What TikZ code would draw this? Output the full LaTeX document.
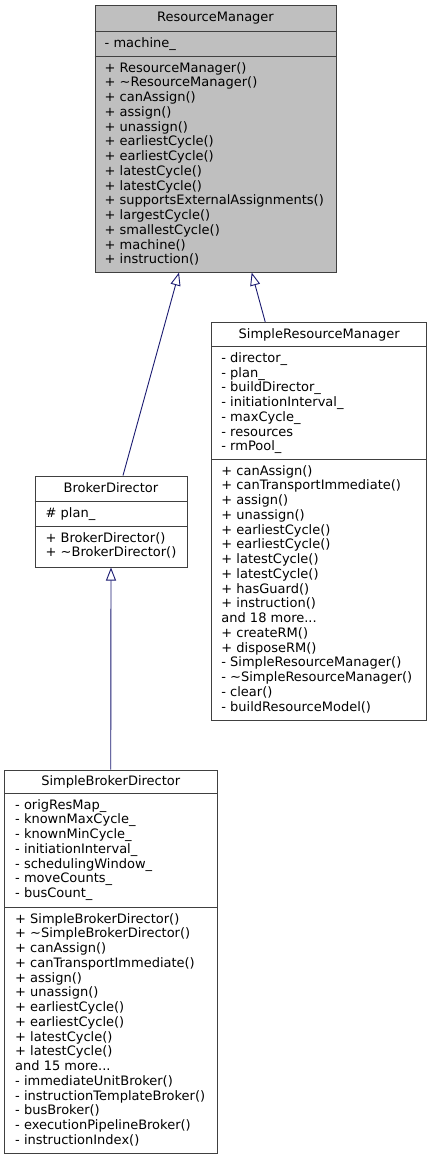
\documentclass[tikz,border=0pt]{standalone}
\usepackage{fontspec}
\setmainfont{DejaVu Sans}
\usetikzlibrary{calc}
\usetikzlibrary{arrows.meta}

\definecolor{edgeblue}{HTML}{191970}
\definecolor{boxgray}{HTML}{BFBFBF}
\definecolor{boxline}{HTML}{404040}

\tikzset{
    classbox/.style={rectangle, draw=boxline, line width=1pt, inner sep=0pt},
    divider/.style={draw=boxline, line width=1pt},
    classname/.style={anchor=base, inner sep=0pt, font=\fontsize{13}{14.75}\selectfont},
    member/.style={anchor=north west, inner sep=0pt, align=left, font=\fontsize{13}{14.75}\selectfont},
    inherit/.style={draw=edgeblue, line width=0.9pt, -{Triangle[open, length=13pt, width=10pt]}}
}

\begin{document}
\begin{tikzpicture}[x=1pt,y=-1pt]
    \useasboundingbox (0,0) rectangle (432,1160);

    % ResourceManager
    \node[classbox, fill=boxgray, minimum width=241pt, minimum height=267pt] (rm) at (215.5,138.5) {};
    \draw[divider] ($(rm.north west)+(0,27)$) -- ($(rm.north east)+(0,27)$);
    \draw[divider] ($(rm.north west)+(0,52)$) -- ($(rm.north east)+(0,52)$);
    \node[classname] (rmname) at ($(rm.north)+(0,16.5)$) {ResourceManager};
    \node[member] (rmattr) at ($(rm.north west)+(10,32.6)$) {- machine\_};
    \node[member] (rmops) at ($(rm.north west)+(10,57.6)$) {+ ResourceManager()\\
        + \textasciitilde ResourceManager()\\
        + canAssign()\\
        + assign()\\
        + unassign()\\
        + earliestCycle()\\
        + earliestCycle()\\
        + latestCycle()\\
        + latestCycle()\\
        + supportsExternalAssignments()\\
        + largestCycle()\\
        + smallestCycle()\\
        + machine()\\
        + instruction()};

    % SimpleResourceManager
    \node[classbox, fill=white, minimum width=215pt, minimum height=397.7pt] (srm) at (319.2,521.15) {};
    \draw[divider] ($(srm.north west)+(0,25)$) -- ($(srm.north east)+(0,25)$);
    \draw[divider] ($(srm.north west)+(0,137.7)$) -- ($(srm.north east)+(0,137.7)$);
    \node[classname] (srmname) at ($(srm.north)+(0,16.5)$) {SimpleResourceManager};
    \node[member] (srmattr) at ($(srm.north west)+(10,30.6)$) {- director\_\\
        - plan\_\\
        - buildDirector\_\\
        - initiationInterval\_\\
        - maxCycle\_\\
        - resources\\
        - rmPool\_};
    \node[member] (srmops) at ($(srm.north west)+(10,143.3)$) {+ canAssign()\\
        + canTransportImmediate()\\
        + assign()\\
        + unassign()\\
        + earliestCycle()\\
        + earliestCycle()\\
        + latestCycle()\\
        + latestCycle()\\
        + hasGuard()\\
        + instruction()\\
        and 18 more...\\
        + createRM()\\
        + disposeRM()\\
        - SimpleResourceManager()\\
        - \textasciitilde SimpleResourceManager()\\
        - clear()\\
        - buildResourceModel()};

    % BrokerDirector
    \node[classbox, fill=white, minimum width=152pt, minimum height=91pt] (bd) at (111,521.5) {};
    \draw[divider] ($(bd.north west)+(0,26)$) -- ($(bd.north east)+(0,26)$);
    \draw[divider] ($(bd.north west)+(0,51)$) -- ($(bd.north east)+(0,51)$);
    \node[classname] (bdname) at ($(bd.north)+(0,16.5)$) {BrokerDirector};
    \node[member] (bdattr) at ($(bd.north west)+(11,31.6)$) {\# plan\_};
    \node[member] (bdops) at ($(bd.north west)+(11,56.6)$) {+ BrokerDirector()\\
        + \textasciitilde BrokerDirector()};

    % SimpleBrokerDirector
    \node[classbox, fill=white, minimum width=212.5pt, minimum height=383pt] (sbd) at (110.75,961.5) {};
    \draw[divider] ($(sbd.north west)+(0,24)$) -- ($(sbd.north east)+(0,24)$);
    \draw[divider] ($(sbd.north west)+(0,138)$) -- ($(sbd.north east)+(0,138)$);
    \node[classname] (sbdname) at ($(sbd.north)+(0,16)$) {SimpleBrokerDirector};
    \node[member] (sbdattr) at ($(sbd.north west)+(11,29.6)$) {- origResMap\_\\
        - knownMaxCycle\_\\
        - knownMinCycle\_\\
        - initiationInterval\_\\
        - schedulingWindow\_\\
        - moveCounts\_\\
        - busCount\_};
    \node[member] (sbdops) at ($(sbd.north west)+(11,143.6)$) {+ SimpleBrokerDirector()\\
        + \textasciitilde SimpleBrokerDirector()\\
        + canAssign()\\
        + canTransportImmediate()\\
        + assign()\\
        + unassign()\\
        + earliestCycle()\\
        + earliestCycle()\\
        + latestCycle()\\
        + latestCycle()\\
        and 15 more...\\
        - immediateUnitBroker()\\
        - instructionTemplateBroker()\\
        - busBroker()\\
        - executionPipelineBroker()\\
        - instructionIndex()};

    % inheritance
    \draw[inherit] ($(bd.north)+(12,0)$) -- ($(rm.south)+(-36.5,0)$);
    \draw[inherit] ($(srm.north)+(-54,0)$) -- ($(rm.south)+(36.2,0)$);
    \draw[inherit] (sbd.north) -- (bd.south);
\end{tikzpicture}
\end{document}
